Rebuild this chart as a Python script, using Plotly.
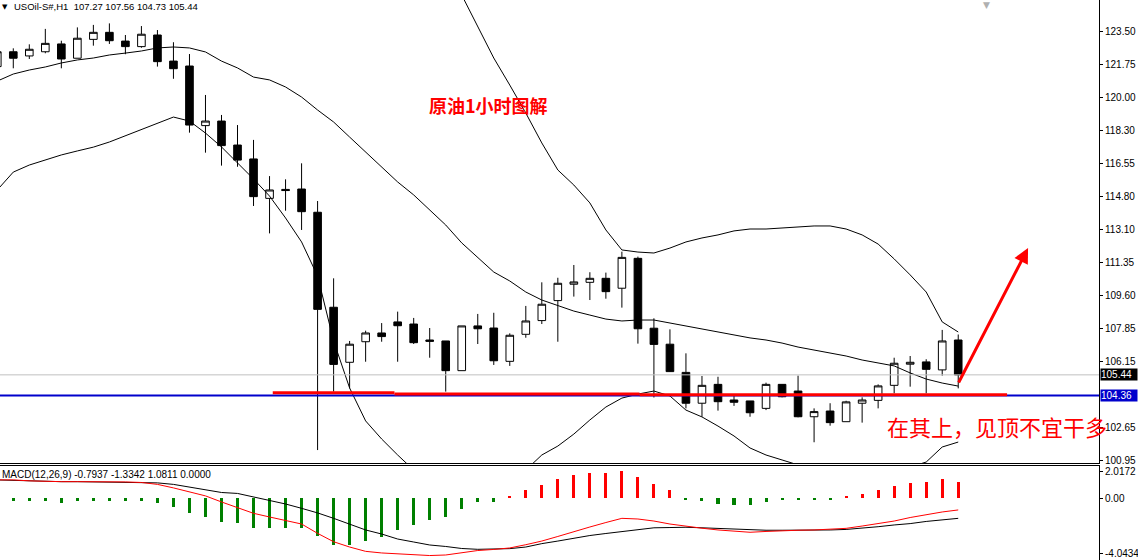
import plotly.graph_objects as go

# hourly bars, index -1 is the partly hidden first bar at the left edge
bar_idx = list(range(-1, 60))

open_ = [121.63, 122.41, 122.19, 122.41, 122.82, 122.07, 123.06, 123.43, 122.97, 122.68,
         123.29, 121.92, 121.66, 118.53, 118.77, 117.51, 116.78, 114.71, 115.18, 115.20,
         113.98, 108.99, 106.10, 107.18, 107.64, 108.22, 108.11, 107.27, 107.22, 105.66,
         108.01, 107.90, 106.15, 107.57, 108.29, 109.34, 110.20, 110.30, 110.51, 109.99,
         111.56, 107.89, 107.05, 105.57, 103.95, 104.94, 104.12, 104.07, 103.68, 104.94,
         104.59, 103.24, 103.54, 102.98, 103.95, 104.10, 104.89, 106.00, 106.12, 105.70,
         107.27]
high_ = [122.61, 122.59, 122.80, 123.61, 122.99, 123.69, 123.82, 123.90, 123.29, 123.76,
         123.55, 122.91, 122.29, 120.14, 119.09, 118.56, 117.78, 115.88, 115.71, 116.55,
         114.57, 110.51, 107.22, 107.76, 108.16, 108.76, 108.43, 107.90, 107.22, 108.01,
         108.64, 108.70, 107.62, 109.06, 110.30, 110.54, 111.21, 110.83, 110.81, 111.91,
         111.65, 108.41, 107.83, 106.57, 105.38, 105.34, 104.35, 104.07, 105.03, 104.94,
         105.40, 103.68, 103.95, 104.08, 104.26, 104.94, 106.34, 106.43, 106.26, 107.80,
         107.56]
low_ = [121.56, 121.54, 122.03, 122.33, 121.54, 122.07, 122.73, 122.82, 122.28, 122.62,
        121.63, 120.99, 118.16, 117.11, 116.43, 116.37, 114.31, 112.87, 114.06, 113.05,
        101.49, 104.56, 104.73, 106.13, 107.18, 106.13, 107.06, 106.34, 104.56, 105.66,
        107.06, 105.96, 105.91, 107.39, 108.11, 107.18, 109.55, 109.37, 109.44, 108.97,
        107.08, 104.25, 105.59, 103.68, 103.24, 103.56, 103.81, 103.24, 103.59, 104.26,
        103.21, 101.90, 102.77, 102.98, 102.93, 103.68, 104.47, 104.82, 104.47, 105.40,
        104.73]
close_ = [122.41, 122.07, 122.54, 122.85, 122.03, 123.12, 123.43, 122.99, 122.68, 123.33,
          121.89, 121.52, 118.56, 118.77, 117.48, 116.72, 114.80, 115.15, 115.12, 114.01,
          108.88, 105.99, 107.05, 107.64, 107.45, 108.02, 107.13, 107.20, 105.66, 108.01,
          107.86, 106.18, 107.52, 108.27, 109.15, 110.25, 110.32, 110.51, 109.81, 111.61,
          107.86, 107.04, 105.61, 103.95, 104.89, 104.03, 104.00, 103.45, 104.94, 104.29,
          103.24, 103.51, 102.93, 104.02, 104.12, 104.86, 106.05, 106.10, 105.73, 107.22,
          105.44]

# Bollinger bands as drawn on the chart
bb_upper = [126.60, 126.39, 126.44, 126.49, 126.65, 126.76, 126.81, 126.81, 126.70, 126.60,
            126.60, 126.34, 126.44, 126.65, 126.44, 126.55, 126.44, 127.02, 127.44, 127.65,
            128.07, 130.22, 131.12, 131.27, 130.64, 129.91, 129.33, 128.38, 127.33, 125.39,
            123.71, 122.08, 120.66, 119.19, 117.62, 116.20, 115.41, 114.47, 113.05, 112.00,
            111.89, 111.84, 112.10, 112.42, 112.63, 112.79, 113.00, 113.10, 113.10, 113.15,
            113.21, 113.26, 113.26, 113.10, 112.79, 112.31, 111.53, 110.69, 109.79, 108.22,
            107.69]
bb_middle = [120.87, 121.24, 121.45, 121.61, 121.82, 121.98, 122.08, 122.24, 122.34, 122.45,
             122.61, 122.66, 122.61, 122.40, 121.92, 121.56, 121.08, 120.93, 120.56, 120.03,
             119.35, 118.72, 117.93, 117.15, 116.36, 115.57, 114.89, 114.10, 113.31, 112.37,
             111.58, 110.84, 110.37, 109.79, 109.37, 109.06, 108.79, 108.58, 108.37, 108.27,
             108.32, 108.32, 108.16, 108.01, 107.85, 107.69, 107.53, 107.38, 107.27, 107.11,
             106.90, 106.75, 106.59, 106.43, 106.22, 106.06, 105.91, 105.54, 105.22, 105.01,
             104.85]
bb_lower = [115.15, 116.09, 116.46, 116.72, 116.99, 117.20, 117.40, 117.67, 117.99, 118.30,
            118.62, 118.98, 118.77, 118.14, 117.41, 116.57, 115.73, 114.83, 113.68, 112.42,
            110.63, 107.22, 104.75, 103.02, 102.07, 101.23, 100.44, 99.81, 99.29, 98.97,
            98.87, 99.18, 99.71, 100.44, 101.23, 101.70, 102.33, 103.07, 103.75, 104.22,
            104.43, 104.59, 104.33, 103.59, 103.23, 102.75, 102.23, 101.60, 101.23, 100.97,
            100.71, 100.55, 100.44, 100.39, 100.39, 100.44, 100.50, 100.60, 100.86, 101.65,
            101.91]

# MACD panel
macd_hist = [-0.18, -0.18, -0.18, -0.18, -0.31, -0.22, -0.15, -0.18, -0.22, -0.22,
             -0.36, -0.61, -1.10, -1.39, -1.72, -1.84, -2.21, -2.21, -2.16, -2.16,
             -2.78, -3.44, -3.44, -3.12, -2.83, -2.33, -1.96, -1.59, -1.35, -0.78,
             -0.28, -0.25, 0.21, 0.63, 1.00, 1.44, 1.74, 1.91, 1.91, 2.04,
             1.61, 1.07, 0.63, -0.05, -0.18, -0.41, -0.48, -0.48, -0.26, -0.12,
             -0.12, -0.12, -0.12, 0.21, 0.33, 0.63, 0.95, 1.17, 1.24, 1.44,
             1.25]
macd_red = [1.37, 1.37, 1.30, 1.26, 1.24, 1.24, 1.24, 1.24, 1.22, 1.18,
            1.04, 0.78, 0.48, 0.19, -0.26, -0.70, -1.10, -1.37, -1.63, -1.89,
            -2.58, -3.20, -3.59, -3.91, -4.03, -4.11, -4.17, -4.22, -4.18, -4.00,
            -3.85, -3.77, -3.66, -3.42, -3.15, -2.81, -2.44, -2.11, -1.78, -1.47,
            -1.52, -1.67, -1.89, -2.07, -2.20, -2.33, -2.43, -2.50, -2.44, -2.38,
            -2.35, -2.33, -2.27, -2.21, -2.04, -1.87, -1.67, -1.41, -1.18, -1.00,
            -0.85]
macd_black = [1.37, 1.33, 1.30, 1.27, 1.24, 1.24, 1.22, 1.21, 1.19, 1.18,
              1.15, 1.04, 0.85, 0.67, 0.44, 0.37, 0.11, -0.11, -0.41, -0.73,
              -1.07, -1.47, -1.89, -2.33, -2.63, -3.00, -3.22, -3.44, -3.55, -3.70,
              -3.76, -3.76, -3.71, -3.59, -3.34, -3.15, -2.92, -2.74, -2.59, -2.46,
              -2.32, -2.17, -2.15, -2.13, -2.17, -2.22, -2.27, -2.33, -2.35, -2.35,
              -2.35, -2.35, -2.33, -2.29, -2.21, -2.09, -1.96, -1.86, -1.70, -1.59,
              -1.47]

price_ticks = [123.50, 121.75, 120.00, 118.30, 116.55, 114.80, 113.10, 111.35,
               109.60, 107.85, 106.15, 102.65, 100.95]
macd_ticks = [2.0172, 0.0, -4.0434]
macd_tick_text = ["2.0172", "0.00", "-4.0434"]

last_price = 105.44
level_price = 104.36
# hand-drawn support segments: (from bar, to bar, price)
support_segs = [(16.2, 23.8, 104.50), (23.8, 39.1, 104.43), (39.1, 62.05, 104.40)]
arrow_from = (58.98, 104.96)
arrow_to = (63.36, 112.10)

header = "USOil-S#,H1  107.27 107.56 104.73 105.44"
macd_header = "MACD(12,26,9) -0.7937 -1.3342 1.0811 0.0000"
title_text = "原油1小时图解"
note_text = "在其上，见顶不宜干多"

fig = go.Figure()

fig.add_trace(go.Candlestick(
    x=bar_idx, open=open_, high=high_, low=low_, close=close_,
    increasing=dict(line=dict(color="black", width=1), fillcolor="white"),
    decreasing=dict(line=dict(color="black", width=1), fillcolor="black"),
    whiskerwidth=0, xaxis="x", yaxis="y"))

for band in (bb_upper, bb_middle, bb_lower):
    fig.add_trace(go.Scatter(x=bar_idx, y=band, mode="lines",
                             line=dict(color="black", width=1), xaxis="x", yaxis="y"))

# price lines
fig.add_trace(go.Scatter(x=[-5, 70], y=[last_price, last_price], mode="lines",
                         line=dict(color="#c0c0c0", width=1), xaxis="x", yaxis="y"))
fig.add_trace(go.Scatter(x=[-5, 70], y=[level_price, level_price], mode="lines",
                         line=dict(color="#0000cc", width=2), xaxis="x", yaxis="y"))
for x0, x1, p in support_segs:
    fig.add_trace(go.Scatter(x=[x0, x1], y=[p, p], mode="lines",
                             line=dict(color="#ff0000", width=3), xaxis="x", yaxis="y"))

hist_colors = ["#ff0000" if v > 0 else "#008000" for v in macd_hist]
fig.add_trace(go.Bar(x=bar_idx, y=macd_hist, width=0.19, marker=dict(color=hist_colors, line=dict(width=0)),
                     xaxis="x2", yaxis="y2"))
fig.add_trace(go.Scatter(x=bar_idx, y=macd_black, mode="lines",
                         line=dict(color="black", width=1), xaxis="x2", yaxis="y2"))
fig.add_trace(go.Scatter(x=bar_idx, y=macd_red, mode="lines",
                         line=dict(color="#ff0000", width=1), xaxis="x2", yaxis="y2"))

axis_font = dict(family="Liberation Sans", size=10, color="black")
x_range = [-0.83, 67.79]

fig.update_layout(
    width=1138, height=560,
    margin=dict(l=0, r=39, t=0, b=0),
    paper_bgcolor="white", plot_bgcolor="white",
    showlegend=False, hovermode=False,
    boxgap=0.32, bargap=0,
    xaxis=dict(domain=[0, 1], range=x_range, anchor="y", showticklabels=False, ticks="",
               showgrid=False, zeroline=False, showline=True, linecolor="black", linewidth=1,
               rangeslider=dict(visible=False)),
    yaxis=dict(domain=[0.1732, 1], range=[100.81, 125.128], side="right", anchor="x",
               tickvals=price_ticks, ticktext=[f"{v:.2f}" for v in price_ticks],
               ticks="outside", ticklen=3, tickcolor="black", tickfont=axis_font,
               showgrid=False, zeroline=False, showline=True, linecolor="black", linewidth=1,
               automargin=False),
    xaxis2=dict(domain=[0, 1], range=x_range, anchor="y2", matches="x", side="top",
                showticklabels=False, ticks="", showgrid=False, zeroline=False,
                showline=True, linecolor="black", linewidth=1),
    yaxis2=dict(domain=[0, 0.1679], range=[-4.55, 2.40], side="right", anchor="x2",
                tickvals=macd_ticks, ticktext=macd_tick_text,
                ticks="outside", ticklen=3, tickcolor="black", tickfont=axis_font,
                showgrid=False, zeroline=False, showline=True, linecolor="black", linewidth=1,
                automargin=False),
)

fig.add_annotation(x=arrow_to[0], y=arrow_to[1], ax=arrow_from[0], ay=arrow_from[1],
                   xref="x", yref="y", axref="x", ayref="y", text="", showarrow=True,
                   arrowhead=2, arrowsize=1.0, arrowwidth=3, arrowcolor="#ff0000")

# price boxes on the axis
fig.add_annotation(x=1, y=last_price, xref="paper", yref="y", xanchor="left", xshift=1,
                   text=f"{last_price:.2f}", showarrow=False, bgcolor="black", borderpad=0,
                   width=36, align="left", font=dict(family="Liberation Sans", size=10, color="white"))
fig.add_annotation(x=1, y=level_price, xref="paper", yref="y", xanchor="left", xshift=1,
                   text=f"{level_price:.2f}", showarrow=False, bgcolor="#0000cc", borderpad=0,
                   width=36, align="left", font=dict(family="Liberation Sans", size=10, color="white"))

fig.add_annotation(x=0, y=1, xref="paper", yref="paper", xanchor="left", yanchor="top",
                   yshift=-1, text="▼", showarrow=False,
                   font=dict(family="DejaVu Sans", size=7, color="black"))
fig.add_annotation(x=0.011, y=1, xref="paper", yref="paper", xanchor="left", yanchor="top",
                   yshift=1, text=header, showarrow=False,
                   font=dict(family="Liberation Sans", size=9.5, color="black"))
fig.add_annotation(x=0.898, y=1, xref="paper", yref="paper", xanchor="center", yanchor="top",
                   yshift=2, text="▼", showarrow=False,
                   font=dict(family="DejaVu Sans", size=9, color="#b0b0b0"))
fig.add_annotation(x=0, y=1, xref="paper", yref="y2 domain", xanchor="left", yanchor="top",
                   yshift=-1, text=macd_header, showarrow=False,
                   font=dict(family="Liberation Sans", size=10, color="black"))

fig.add_annotation(x=25.86, y=119.61, xref="x", yref="y", xanchor="left", yanchor="middle",
                   text=f"<b>{title_text}</b>", showarrow=False,
                   font=dict(family="Noto Sans CJK SC", size=18, color="#ff0000"))
fig.add_annotation(x=54.4, y=102.75, xref="x", yref="y", xanchor="left", yanchor="middle",
                   text=note_text, showarrow=False,
                   font=dict(family="Noto Sans CJK SC", size=22, color="#ff0000"))

# the page body has a default margin; remove it so the figure sits at the window corner
fig.write_html("out.html", post_script="document.body.style.margin='0';",
               config={"displayModeBar": False})
